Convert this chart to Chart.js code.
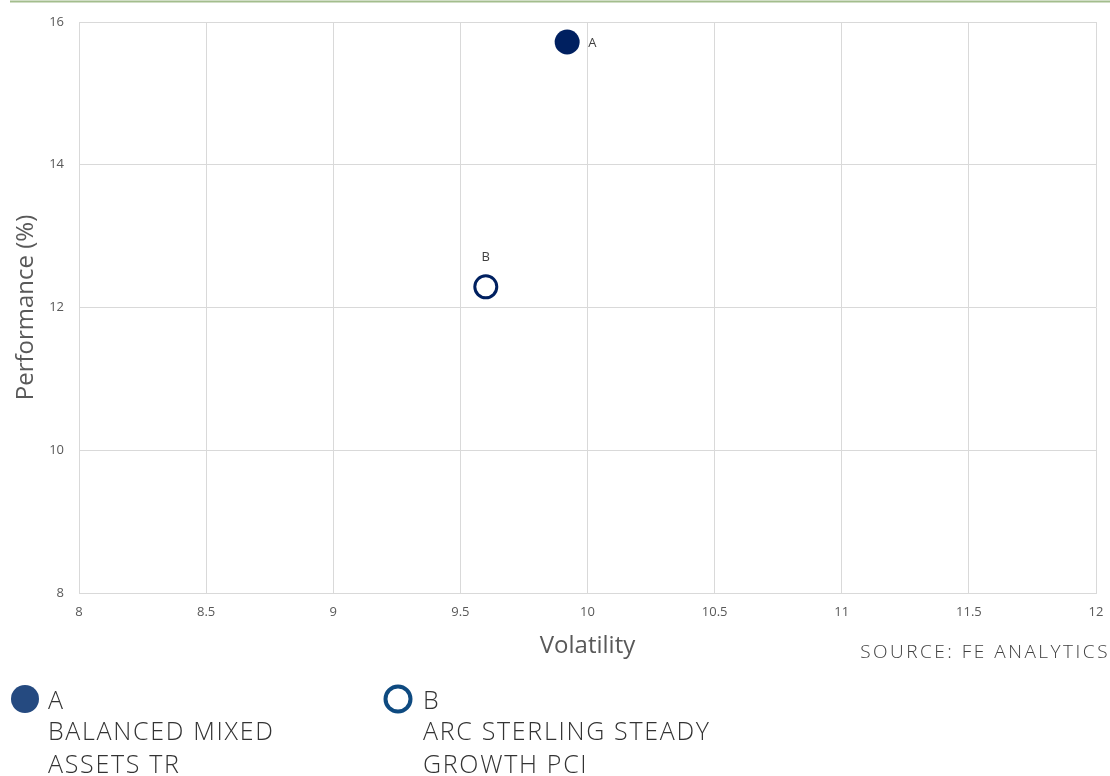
<!DOCTYPE html>
<html>
<head>
<meta charset="utf-8">
<script src="https://cdn.jsdelivr.net/npm/chart.js@4.4.1/dist/chart.umd.min.js"></script>
<style>
  html, body { margin: 0; padding: 0; background: #ffffff; }
  #wrap { position: relative; width: 1110px; height: 776px; }
</style>
</head>
<body>
<div id="wrap"><canvas id="c" width="1110" height="776"></canvas></div>
<script>
// ---- data ----
const pointLabels = ['A', 'B'];
const fundNames = [['BALANCED MIXED', 'ASSETS TR'], ['ARC STERLING STEADY', 'GROWTH PCI']];
const volatility = [9.92, 9.60];
const performance = [15.72, 12.29];
const xTicks = [8, 8.5, 9, 9.5, 10, 10.5, 11, 11.5, 12];
const yTicks = [8, 10, 12, 14, 16];
const sourceText = 'SOURCE: FE ANALYTICS';
const xTitle = 'Volatility';
const yTitle = 'Performance (%)';

const NAVY = '#002060';
const FONT = "'Open Sans', 'DejaVu Sans', sans-serif";

const decor = {
  id: 'decor',
  afterDraw(chart) {
    const ctx = chart.ctx;
    ctx.save();
    // top green rule
    ctx.strokeStyle = '#a3bd8d';
    ctx.lineWidth = 2;
    ctx.beginPath();
    ctx.moveTo(10, 1.5);
    ctx.lineTo(1110, 1.5);
    ctx.stroke();

    // data labels
    ctx.fillStyle = '#404040';
    ctx.font = '13px ' + FONT;
    ctx.textBaseline = 'middle';
    const mA = chart.getDatasetMeta(0).data[0];
    const mB = chart.getDatasetMeta(1).data[0];
    ctx.textAlign = 'left';
    ctx.fillText(pointLabels[0], mA.x + 21, mA.y + 1);
    ctx.textAlign = 'center';
    ctx.fillText(pointLabels[1], mB.x, mB.y - 30);

    // source
    ctx.fillStyle = '#404040';
    ctx.font = '300 19px ' + FONT;
    ctx.letterSpacing = '2.5px';
    ctx.textAlign = 'right';
    ctx.textBaseline = 'alphabetic';
    ctx.fillText(sourceText, 1110, 658);

    // legend
    const items = [
      { cx: 25, tx: 48, filled: true, color: '#254a80' },
      { cx: 398, tx: 423, filled: false, color: '#0e4a80' }
    ];
    items.forEach((it, i) => {
      ctx.beginPath();
      if (it.filled) {
        ctx.arc(it.cx, 699, 14, 0, Math.PI * 2);
        ctx.fillStyle = it.color;
        ctx.fill();
      } else {
        ctx.arc(it.cx, 699, 12.5, 0, Math.PI * 2);
        ctx.strokeStyle = it.color;
        ctx.lineWidth = 4;
        ctx.stroke();
      }
      ctx.fillStyle = '#333333';
      ctx.font = '300 25px ' + FONT;
      ctx.letterSpacing = '1.7px';
      ctx.textAlign = 'left';
      ctx.fillText(pointLabels[i], it.tx, 709);
      ctx.fillText(fundNames[i][0], it.tx, 740);
      ctx.fillText(fundNames[i][1], it.tx, 773);
    });
    ctx.restore();
  }
};

new Chart(document.getElementById('c'), {
  type: 'scatter',
  data: {
    datasets: [
      {
        label: pointLabels[0],
        data: [{ x: volatility[0], y: performance[0] }],
        backgroundColor: NAVY,
        borderColor: NAVY,
        borderWidth: 0,
        pointRadius: 12.5,
        pointHoverRadius: 12.5
      },
      {
        label: pointLabels[1],
        data: [{ x: volatility[1], y: performance[1] }],
        backgroundColor: '#ffffff',
        borderColor: NAVY,
        borderWidth: 3,
        pointRadius: 11,
        pointHoverRadius: 11
      }
    ]
  },
  options: {
    responsive: false,
    animation: false,
    events: [],
    layout: { padding: { top: 22, right: 14, bottom: 113, left: 0 } },
    plugins: { legend: { display: false }, tooltip: { enabled: false } },
    scales: {
      x: {
        type: 'linear',
        min: xTicks[0],
        max: xTicks[xTicks.length - 1],
        afterBuildTicks(scale) { scale.ticks = xTicks.map(v => ({ value: v })); },
        afterFit(scale) { scale.height = 70; scale.paddingLeft = 0; scale.paddingRight = 0; },
        ticks: { padding: 11, color: '#595959', font: { family: FONT, size: 13 }, callback: v => String(v) },
        grid: { color: '#d9d9d9', drawTicks: false, lineWidth: 1 },
        border: { color: '#d9d9d9' },
        title: { display: true, text: xTitle, color: '#595959', font: { family: FONT, size: 24 }, padding: { top: 0, bottom: 2 } }
      },
      y: {
        type: 'linear',
        min: yTicks[0],
        max: yTicks[yTicks.length - 1],
        afterBuildTicks(scale) { scale.ticks = yTicks.map(v => ({ value: v })); },
        afterFit(scale) { scale.width = 79; scale.paddingTop = 0; scale.paddingBottom = 0; },
        ticks: { padding: 15, color: '#595959', font: { family: FONT, size: 13 }, callback: v => String(v) },
        grid: { color: '#d9d9d9', drawTicks: false, lineWidth: 1 },
        border: { color: '#d9d9d9' },
        title: { display: true, text: yTitle, color: '#595959', font: { family: FONT, size: 24 }, padding: { top: 12, bottom: 0 } }
      }
    }
  },
  plugins: [decor]
});
</script>
</body>
</html>
